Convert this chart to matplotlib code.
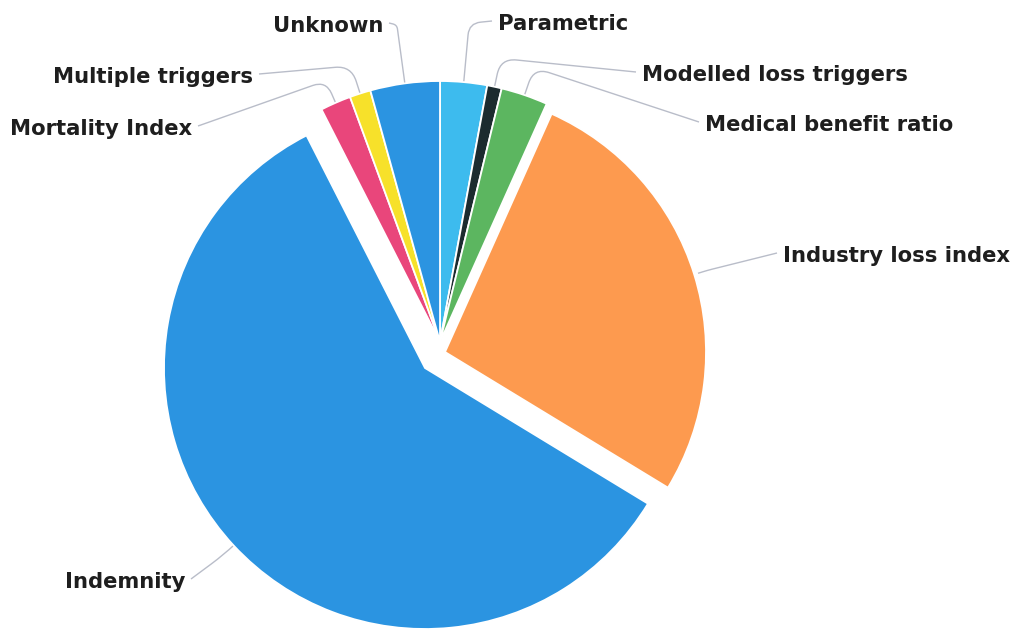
import numpy as np
import matplotlib
matplotlib.use("Agg")
import matplotlib.pyplot as plt
from matplotlib.path import Path
from matplotlib.patches import PathPatch

# slice order is clockwise from 12 o'clock
labels = ['Parametric', 'Modelled loss triggers', 'Medical benefit ratio',
          'Industry loss index', 'Indemnity', 'Mortality Index',
          'Multiple triggers', 'Unknown']
shares = [2.9, 0.9, 2.9, 27.0, 58.8, 1.9, 1.3, 4.3]
colors = ['#3dbbee', '#1c2b2f', '#5cb660', '#fd9a4f', '#2b94e1',
          '#e9467b', '#f7e12a', '#2b94e1']

W, H = 1023, 632
R = 261
CX, CY = 440, 342  # pixel coords, y down

# label layout: text x, text y, alignment, end radius, corner radius (pixels)
layout = {
    'Parametric':             (498, 24, 'left', 257, 320),
    'Modelled loss triggers': (642, 75, 'left', 257, 290),
    'Medical benefit ratio':  (705, 125, 'left', 257, 290),
    'Industry loss index':    (783, 256, 'left', 265, 275),
    'Indemnity':              (185, 582, 'right', 245, 275),
    'Mortality Index':        (192, 129, 'right', 257, 285),
    'Multiple triggers':      (253, 77, 'right', 257, 290),
    'Unknown':                (383, 26, 'right', 257, 320),
}
# slices pulled away from the centre (pixel offsets)
shift = {'Industry loss index': (5, 10), 'Indemnity': (-15, 26)}


def py(y):
    return H - y


def rounded(p0, p1, p2, rr=16):
    p0, p1, p2 = map(np.asarray, (p0, p1, p2))
    d0 = np.linalg.norm(p1 - p0)
    d1 = np.linalg.norm(p2 - p1)
    r = min(rr, d0 * 0.5, d1 * 0.5)
    a = p1 + (p0 - p1) / max(d0, 1e-9) * r
    b = p1 + (p2 - p1) / max(d1, 1e-9) * r
    verts = [p0, a, p1, b, p2]
    codes = [Path.MOVETO, Path.LINETO, Path.CURVE3, Path.CURVE3, Path.LINETO]
    return Path(verts, codes)


def main():
    fig = plt.figure(figsize=(W / 100, H / 100), dpi=100)
    ax = fig.add_axes([0, 0, 1, 1])

    wedges, _ = ax.pie(shares, colors=colors, startangle=90, counterclock=False,
                       radius=R, center=(CX, py(CY)),
                       wedgeprops=dict(edgecolor='white', linewidth=1.3))

    for w, lab in zip(wedges, labels):
        dx, dy = shift.get(lab, (0, 0))
        cx, cy = CX + dx, py(CY + dy)
        w.set_center((cx, cy))

        tx, ty, ha, r_end, r_corner = layout[lab]
        mid = np.deg2rad((w.theta1 + w.theta2) / 2)
        end = (cx + r_end * np.cos(mid), cy + r_end * np.sin(mid))
        corner = (cx + r_corner * np.cos(mid), cy + r_corner * np.sin(mid))
        sx = tx - 6 if ha == 'left' else tx + 6
        start = (sx, py(ty - 3))
        ax.add_patch(PathPatch(rounded(start, corner, end), fill=False,
                               edgecolor='#b9bdc9', linewidth=1.0, zorder=0))
        ax.text(tx, py(ty), lab, ha=ha, va='center', fontsize=15.2,
                fontweight='bold', color='#1e1e1e', family='DejaVu Sans')

    ax.set_xlim(0, W)
    ax.set_ylim(0, H)
    ax.set_aspect('auto')
    ax.axis('off')
    fig.savefig('out.png', dpi=100, facecolor='white')


if __name__ == "__main__":
    main()
